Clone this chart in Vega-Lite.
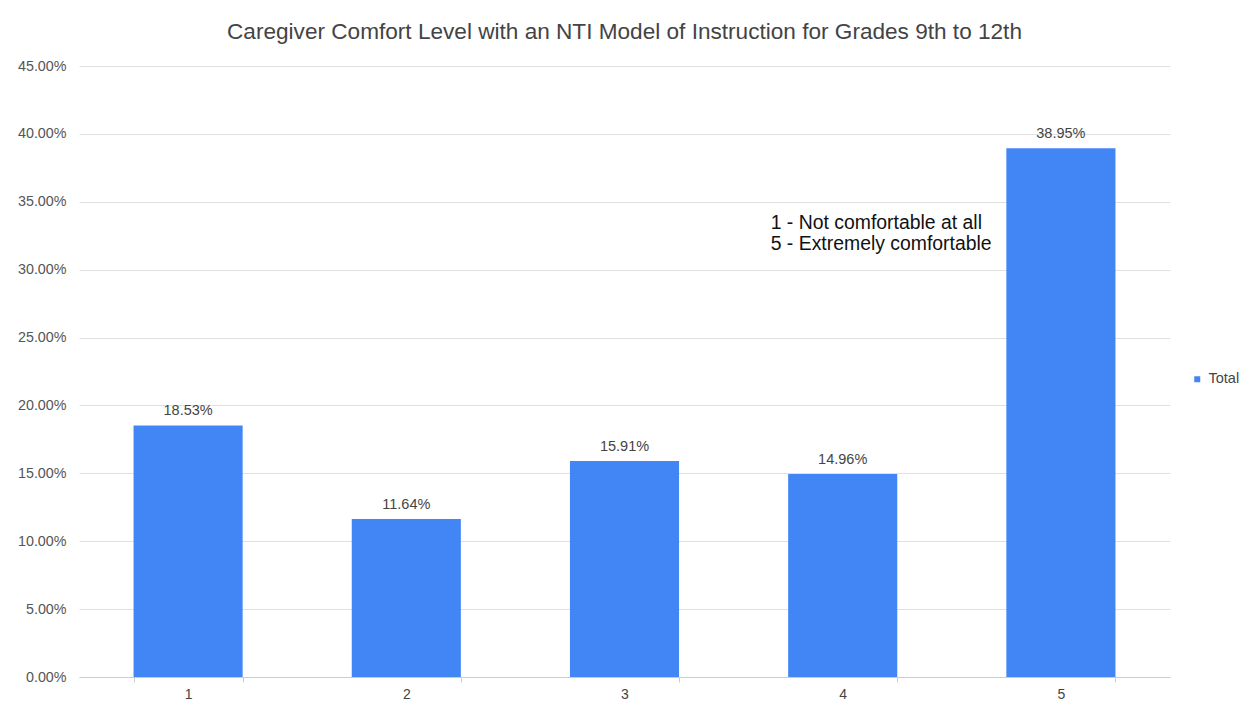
{
  "$schema": "https://vega.github.io/schema/vega-lite/v6.json",
  "autosize": "none",
  "width": 1091,
  "height": 611,
  "padding": {"left": 79, "top": 66, "right": 82, "bottom": 29},
  "background": "white",
  "title": {
    "text": "Caregiver Comfort Level with  an NTI Model of Instruction for Grades 9th to 12th",
    "font": "Liberation Sans",
    "fontSize": 22.6,
    "fontWeight": "normal",
    "color": "#444444",
    "offset": 15,
    "anchor": "middle"
  },
  "config": {
    "view": {"stroke": null},
    "font": "Liberation Sans"
  },
  "layer": [
    {
      "data": {
        "values": [
          {"rating": "1", "share": 0.1853, "series": "Total"},
          {"rating": "2", "share": 0.1164, "series": "Total"},
          {"rating": "3", "share": 0.1591, "series": "Total"},
          {"rating": "4", "share": 0.1496, "series": "Total"},
          {"rating": "5", "share": 0.3895, "series": "Total"}
        ]
      },
      "layer": [
        {
          "mark": {"type": "bar"},
          "encoding": {
            "x": {
              "field": "rating",
              "type": "nominal",
              "scale": {"paddingInner": 0.5, "paddingOuter": 0.25},
              "axis": {
                "title": null,
                "labelAngle": 0,
                "labelFont": "Liberation Sans",
                "labelFontSize": 14,
                "labelColor": "#444444",
                "labelPadding": 5,
                "tickBand": "extent",
                "tickColor": "#cccccc",
                "tickSize": 5,
                "domainColor": "#cccccc",
                "grid": false
              }
            },
            "y": {
              "field": "share",
              "type": "quantitative",
              "scale": {"domain": [0, 0.45]},
              "axis": {
                "title": null,
                "format": ".2%",
                "values": [0, 0.05, 0.1, 0.15, 0.2, 0.25, 0.3, 0.35, 0.4, 0.45],
                "labelFont": "Liberation Sans",
                "labelFontSize": 14.3,
                "labelColor": "#555555",
                "labelPadding": 13,
                "ticks": false,
                "domain": false,
                "gridColor": "#e0e0e0",
                "gridWidth": 1
              }
            },
            "color": {
              "field": "series",
              "type": "nominal",
              "scale": {"range": ["#4285f4"]},
              "legend": {
                "title": null,
                "orient": "none",
                "legendX": 1111,
                "legendY": 306,
                "symbolType": "square",
                "symbolSize": 36,
                "labelFont": "Liberation Sans",
                "labelFontSize": 14.5,
                "labelColor": "#444444",
                "labelOffset": 4
              }
            }
          }
        },
        {
          "mark": {"type": "text", "baseline": "bottom", "dy": -7, "fontSize": 14.5, "font": "Liberation Sans", "color": "#444444"},
          "encoding": {
            "x": {"field": "rating", "type": "nominal"},
            "y": {"field": "share", "type": "quantitative"},
            "text": {"field": "share", "type": "quantitative", "format": ".2%"}
          }
        }
      ]
    },
    {
      "data": {
        "values": [
          {"rating": "4", "pos": 0.3345, "note": "1 - Not comfortable at all"},
          {"rating": "4", "pos": 0.319, "note": "5 - Extremely comfortable"}
        ]
      },
      "mark": {"type": "text", "align": "left", "baseline": "middle", "dx": -72, "fontSize": 19.4, "font": "Liberation Sans", "color": "#111111"},
      "encoding": {
        "x": {"field": "rating", "type": "nominal"},
        "y": {"field": "pos", "type": "quantitative"},
        "text": {"field": "note", "type": "nominal"}
      }
    }
  ]
}
